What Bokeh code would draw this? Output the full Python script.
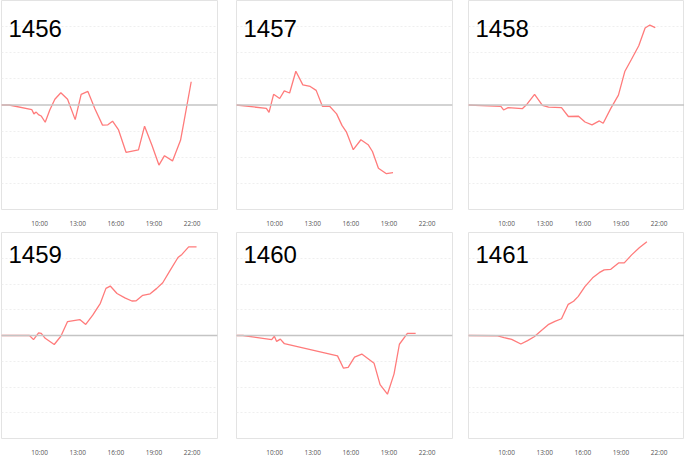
from bokeh.plotting import figure
from bokeh.layouts import column, row
from bokeh.models import Span, Label, FixedTicker, Range1d
from bokeh.embed import file_html
from bokeh.resources import INLINE

# ---- data (time in decimal hours, value in grid units) ----
titles = ["1456", "1457", "1458", "1459", "1460", "1461"]
tick_hours = [10, 13, 16, 19, 22]
tick_labels = ["10:00", "13:00", "16:00", "19:00", "22:00"]

t1456 = [7.0, 7.6, 9.39, 9.55, 9.73, 9.91, 10.12, 10.44, 10.8, 11.2, 11.67, 12.2, 12.8, 13.27, 13.8,
         14.35, 14.95, 15.37, 15.74, 16.2, 16.8, 17.78, 18.26, 18.84, 19.39, 19.83, 20.46, 21.09, 21.38, 21.93]
v1456 = [0, 0, -0.18, -0.34, -0.27, -0.37, -0.42, -0.66, -0.19, 0.22, 0.47, 0.22, -0.56, 0.41, 0.52,
         -0.14, -0.77, -0.76, -0.62, -0.94, -1.81, -1.72, -0.81, -1.54, -2.3, -1.94, -2.14, -1.35, -0.59, 0.89]

t1457 = [7.0, 9.35, 9.56, 9.92, 10.4, 10.76, 11.18, 11.67, 12.22, 12.8, 13.27, 13.76, 14.33, 14.88,
         15.3, 15.66, 16.19, 16.79, 17.36, 17.7, 18.17, 18.8, 19.32]
v1457 = [0, -0.13, -0.28, 0.41, 0.25, 0.54, 0.46, 1.29, 0.77, 0.71, 0.56, -0.05, -0.05, -0.34,
         -0.78, -1.04, -1.71, -1.33, -1.52, -1.78, -2.42, -2.63, -2.59]

t1458 = [7.0, 9.55, 9.76, 10.12, 11.23, 11.62, 12.2, 12.82, 13.3, 14.32, 14.86, 15.66, 16.17, 16.72,
         17.3, 17.6, 18.2, 18.8, 19.3, 19.83, 20.4, 20.9, 21.27, 21.7]
v1458 = [0, -0.05, -0.19, -0.1, -0.14, 0.04, 0.41, -0.01, -0.08, -0.1, -0.44, -0.43, -0.65, -0.76,
         -0.61, -0.7, -0.13, 0.38, 1.28, 1.75, 2.27, 2.95, 3.06, 2.96]

t1459 = [7.0, 9.2, 9.52, 9.92, 10.13, 10.44, 11.15, 11.67, 12.2, 13.16, 13.63, 14.18, 14.78, 15.22,
         15.56, 16.09, 16.71, 17.26, 17.6, 18.12, 18.7, 19.22, 19.69, 20.26, 20.89, 21.2, 21.73, 22.35]
v1459 = [0, 0, -0.16, 0.1, 0.08, -0.11, -0.35, -0.03, 0.54, 0.62, 0.43, 0.79, 1.25, 1.83,
         1.92, 1.63, 1.46, 1.34, 1.35, 1.56, 1.62, 1.83, 2.05, 2.52, 3.03, 3.15, 3.44, 3.44]

t1460 = [7.0, 7.5, 9.77, 9.98, 10.16, 10.45, 10.77, 14.95, 15.42, 15.79, 16.29, 16.86, 17.83, 18.3,
         18.88, 19.4, 19.82, 20.45, 21.1]
v1460 = [0, 0, -0.16, -0.03, -0.23, -0.14, -0.32, -0.79, -1.27, -1.24, -0.84, -0.72, -1.08, -1.91,
         -2.28, -1.49, -0.34, 0.08, 0.08]

t1461 = [7.0, 9.3, 9.8, 10.4, 11.12, 11.65, 12.17, 12.83, 13.27, 13.8, 14.32, 14.85, 15.27, 15.64,
         16.16, 16.77, 17.29, 17.68, 18.2, 18.81, 19.26, 19.84, 20.44, 21.04]
v1461 = [0, -0.01, -0.08, -0.15, -0.33, -0.2, -0.05, 0.23, 0.42, 0.55, 0.65, 1.21, 1.33, 1.52,
         1.9, 2.24, 2.44, 2.55, 2.57, 2.82, 2.82, 3.13, 3.41, 3.64]

series = [(t1456, v1456), (t1457, v1457), (t1458, v1458),
          (t1459, v1459), (t1460, v1460), (t1461, v1461)]

# ---- layout geometry ----
FRAME_W = 216
col_borders = [(1, 11), (8, 6), (10, 0)]      # (left, right)
row_borders = [(0, 23, 209), (0, 15, 212)]    # (top, bottom, frame height)

LINE_COLOR = "#ff7b7b"


def make_panel(idx):
    r, c = divmod(idx, 3)
    bl, br = col_borders[c]
    bt, bb, fh = row_borders[r]
    p = figure(width=FRAME_W + bl + br, height=fh + bt + bb,
               x_range=Range1d(7, 24), y_range=Range1d(-4, 4),
               output_backend="svg", toolbar_location=None,
               min_border_left=bl, min_border_right=br,
               min_border_top=bt, min_border_bottom=bb)
    p.background_fill_color = "white"
    p.border_fill_color = "white"
    p.outline_line_color = "#e3e3e3"
    p.outline_line_width = 1

    p.yaxis.visible = False
    p.yaxis.ticker = FixedTicker(ticks=[-3, -2, -1, 1, 2, 3])
    p.ygrid.grid_line_color = "#efefef"
    p.ygrid.grid_line_dash = "2 2"
    p.xgrid.grid_line_color = None

    xa = p.xaxis[0]
    xa.ticker = FixedTicker(ticks=tick_hours)
    xa.major_label_overrides = {h: lab for h, lab in zip(tick_hours, tick_labels)}
    xa.axis_line_color = None
    xa.major_tick_line_color = None
    xa.minor_tick_line_color = None
    xa.major_label_standoff = 3
    xa.major_label_text_font = "Open Sans"
    xa.major_label_text_font_size = "6.5px"
    xa.major_label_text_color = "#555555"

    p.add_layout(Span(location=0, dimension="width", line_color="#c4c4c4", line_width=1.5))

    t, v = series[idx]
    p.line(t, v, line_color=LINE_COLOR, line_width=1.3)

    p.add_layout(Label(x=7, y=fh - 28, x_units="screen", y_units="screen",
                       text=titles[idx], text_font="Liberation Sans",
                       text_font_size="24px", text_color="black",
                       text_baseline="alphabetic"))
    return p


panels = [make_panel(i) for i in range(6)]
layout = column(row(*panels[:3]), row(*panels[3:]))

open("out.html", "w").write(file_html(layout, INLINE))
